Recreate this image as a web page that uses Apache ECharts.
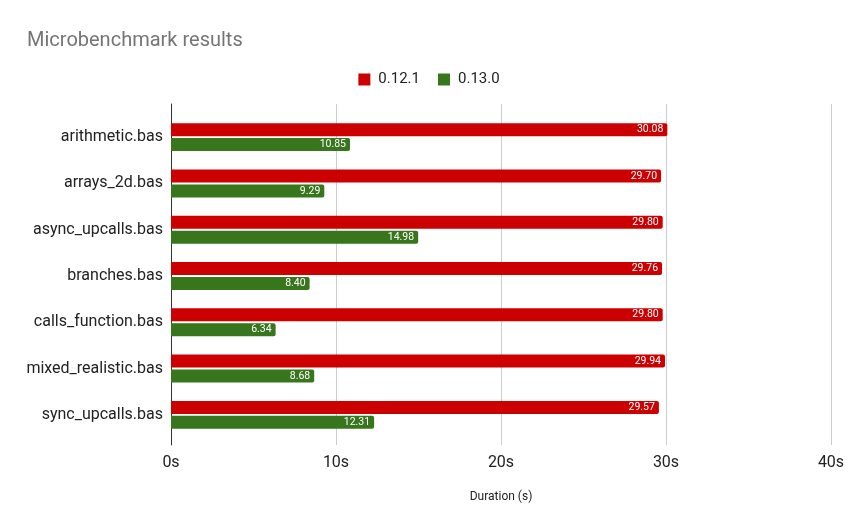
<!DOCTYPE html>
<html>
<head>
<meta charset="utf-8">
<script src="https://cdn.jsdelivr.net/npm/echarts@6/dist/echarts.min.js"></script>
<style>
    html, body { margin: 0; padding: 0; background: #fff; }
    #chart { width: 858px; height: 531px; }
</style>
</head>
<body>
<div id="chart"></div>
<script>
var categories = ["arithmetic.bas", "arrays_2d.bas", "async_upcalls.bas", "branches.bas", "calls_function.bas", "mixed_realistic.bas", "sync_upcalls.bas"];
var oldValues = [30.08, 29.70, 29.80, 29.76, 29.80, 29.94, 29.57]; // 0.12.1
var newValues = [10.85, 9.29, 14.98, 8.40, 6.34, 8.68, 12.31];     // 0.13.0
var seriesNames = ["0.12.1", "0.13.0"];
var xTicks = { min: 0, max: 40, interval: 10 };

(function () {
    var myChart = echarts.init(document.getElementById('chart'));
    var fontFamily = 'Roboto, Arial, sans-serif';

    var barLabel = {
        show: true,
        position: 'insideRight',
        distance: 4,
        color: '#fff',
        fontSize: 10.5,
        fontFamily: fontFamily,
        formatter: function (p) { return p.value.toFixed(2); }
    };

    var option = {
        backgroundColor: '#fff',
        animation: false,
        title: {
            text: 'Microbenchmark results',
            left: 27,
            top: 31,
            padding: 0,
            textStyle: {
                color: '#757575',
                fontSize: 20,
                fontWeight: 'normal',
                fontFamily: fontFamily
            }
        },
        legend: {
            data: seriesNames,
            left: 'center',
            top: 67,
            itemWidth: 12,
            itemHeight: 12,
            itemGap: 18,
            icon: 'rect',
            textStyle: {
                color: '#222',
                fontSize: 15,
                padding: [0, 0, 0, 3],
                fontFamily: fontFamily
            }
        },
        // grid 0: gridlines and axes over the full plot area
        // grid 1: the bars, with Google-style padding at top and bottom
        grid: [
            { left: 171, right: 27, top: 104, bottom: 86 },
            { left: 171, right: 27, top: 114, bottom: 93 }
        ],
        xAxis: [
            {
                gridIndex: 0,
                type: 'value',
                min: xTicks.min,
                max: xTicks.max,
                interval: xTicks.interval,
                name: 'Duration (s)',
                nameLocation: 'middle',
                nameGap: 46,
                nameTextStyle: { color: '#222', fontSize: 12, fontFamily: fontFamily },
                axisLabel: {
                    formatter: '{value}s',
                    color: '#222',
                    fontSize: 16,
                    margin: 10,
                    fontFamily: fontFamily
                },
                axisLine: { show: false },
                axisTick: { show: false },
                splitLine: { show: true, lineStyle: { color: '#cccccc', width: 1 } }
            },
            {
                gridIndex: 1,
                type: 'value',
                min: xTicks.min,
                max: xTicks.max,
                show: false
            }
        ],
        yAxis: [
            {
                gridIndex: 0,
                type: 'value',
                min: 0,
                max: 1,
                axisLabel: { show: false },
                axisTick: { show: false },
                splitLine: { show: false },
                axisLine: { show: true, lineStyle: { color: '#333', width: 1 } }
            },
            {
                gridIndex: 1,
                type: 'category',
                inverse: true,
                data: categories,
                axisLine: { show: false },
                axisTick: { show: false },
                axisLabel: {
                    color: '#222',
                    fontSize: 16,
                    margin: 8,
                    fontFamily: fontFamily
                }
            }
        ],
        series: [
            {
                name: seriesNames[0],
                type: 'bar',
                xAxisIndex: 1,
                yAxisIndex: 1,
                data: oldValues,
                barWidth: 13,
                barGap: '15%',
                itemStyle: { color: '#cc0000', borderRadius: [0, 2, 2, 0] },
                label: barLabel
            },
            {
                name: seriesNames[1],
                type: 'bar',
                xAxisIndex: 1,
                yAxisIndex: 1,
                data: newValues,
                barWidth: 13,
                barGap: '15%',
                itemStyle: { color: '#38761d', borderRadius: [0, 2, 2, 0] },
                label: barLabel
            }
        ]
    };

    myChart.setOption(option);
    window.addEventListener("resize", function () {
        myChart.resize();
    });
})();
</script>
</body>
</html>
